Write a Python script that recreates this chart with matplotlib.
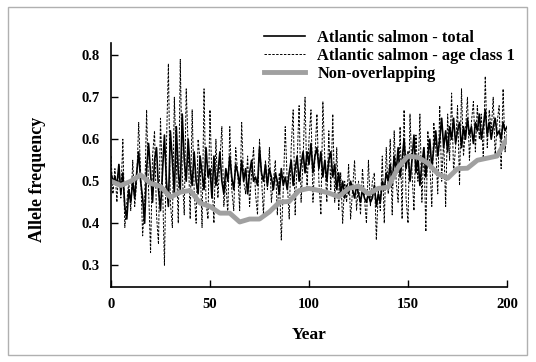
import numpy as np
import matplotlib
matplotlib.use("Agg")
import matplotlib.pyplot as plt
from matplotlib.patches import Rectangle

plt.rcParams['font.family'] = ['Liberation Serif', 'DejaVu Serif']
plt.rcParams['font.weight'] = 'bold'

years = np.arange(0, 201)

# Atlantic salmon - total
total = [
    0.52, 0.50, 0.51, 0.49, 0.54, 0.47, 0.52, 0.44, 0.41, 0.48,
    0.45, 0.50, 0.46, 0.52, 0.57, 0.50, 0.46, 0.40, 0.53, 0.59,
    0.52, 0.45, 0.55, 0.58, 0.48, 0.43, 0.52, 0.61, 0.50, 0.44,
    0.62, 0.55, 0.47, 0.63, 0.52, 0.48, 0.66, 0.55, 0.50, 0.60,
    0.53, 0.49, 0.57, 0.50, 0.47, 0.56, 0.52, 0.48, 0.58, 0.51,
    0.53, 0.46, 0.56, 0.49, 0.52, 0.57, 0.50, 0.47, 0.53, 0.50,
    0.56, 0.51, 0.48, 0.54, 0.52, 0.49, 0.55, 0.50, 0.53, 0.47,
    0.52, 0.55, 0.50, 0.51, 0.49, 0.58, 0.52, 0.50, 0.54, 0.49,
    0.53, 0.51, 0.48, 0.52, 0.50, 0.47, 0.53, 0.49, 0.51, 0.48,
    0.52, 0.55, 0.49, 0.53, 0.56, 0.50, 0.54, 0.57, 0.52, 0.57,
    0.54, 0.59, 0.52, 0.56, 0.58, 0.53, 0.57, 0.51, 0.55, 0.50,
    0.55, 0.57, 0.51, 0.54, 0.48, 0.52, 0.47, 0.50, 0.46, 0.49,
    0.47, 0.50, 0.48, 0.46, 0.49, 0.47, 0.45, 0.48, 0.46, 0.45,
    0.47, 0.45, 0.46, 0.49, 0.44, 0.47, 0.45, 0.50, 0.48, 0.52,
    0.50, 0.54, 0.49, 0.56, 0.52, 0.58, 0.51, 0.55, 0.60, 0.53,
    0.57, 0.50, 0.55, 0.61, 0.52, 0.56, 0.49, 0.54, 0.58, 0.51,
    0.56, 0.60, 0.53, 0.58, 0.62, 0.56, 0.60, 0.65, 0.58, 0.62,
    0.57, 0.63, 0.60, 0.65, 0.59, 0.62, 0.64, 0.58, 0.63, 0.60,
    0.65, 0.61, 0.63, 0.59, 0.64, 0.62, 0.66, 0.60, 0.63, 0.67,
    0.61, 0.64, 0.60, 0.63, 0.65, 0.61, 0.62, 0.60, 0.64, 0.62,
    0.63,
]

# Atlantic salmon - age class 1
age1 = [
    0.56, 0.47, 0.53, 0.45, 0.54, 0.46, 0.60, 0.39, 0.45, 0.50,
    0.43, 0.55, 0.44, 0.50, 0.64, 0.52, 0.37, 0.45, 0.67, 0.48,
    0.33, 0.56, 0.62, 0.42, 0.35, 0.65, 0.50, 0.30, 0.58, 0.78,
    0.45, 0.39, 0.70, 0.55, 0.40, 0.79, 0.52, 0.42, 0.72, 0.58,
    0.41, 0.67, 0.48, 0.40, 0.60, 0.55, 0.39, 0.72, 0.45, 0.41,
    0.67, 0.50, 0.40, 0.60, 0.46, 0.55, 0.63, 0.44, 0.50, 0.42,
    0.63, 0.48, 0.43, 0.58, 0.52, 0.43, 0.64, 0.50, 0.47, 0.56,
    0.44, 0.52, 0.58, 0.47, 0.42, 0.60, 0.51, 0.42, 0.55, 0.48,
    0.58, 0.45, 0.50, 0.55, 0.42, 0.52, 0.36, 0.48, 0.63, 0.50,
    0.41, 0.58, 0.67, 0.42, 0.55, 0.68, 0.45, 0.55, 0.70, 0.48,
    0.60, 0.67, 0.45, 0.56, 0.66, 0.50, 0.42, 0.69, 0.55, 0.45,
    0.62, 0.48, 0.66, 0.45, 0.58, 0.43, 0.52, 0.40, 0.50, 0.45,
    0.54, 0.41, 0.48, 0.55, 0.43, 0.50, 0.42, 0.53, 0.46, 0.40,
    0.55, 0.44, 0.50, 0.52, 0.36, 0.48, 0.43, 0.56, 0.40, 0.58,
    0.47, 0.60, 0.42, 0.62, 0.50, 0.45, 0.63, 0.41, 0.67, 0.46,
    0.40, 0.66, 0.52, 0.43, 0.61, 0.50, 0.66, 0.45, 0.58, 0.38,
    0.62, 0.54, 0.44, 0.64, 0.58, 0.47, 0.68, 0.50, 0.60, 0.44,
    0.66, 0.55, 0.71, 0.52, 0.58, 0.68, 0.49, 0.72, 0.56, 0.62,
    0.70, 0.55, 0.64, 0.69, 0.57, 0.68, 0.60, 0.66, 0.55, 0.75,
    0.58, 0.67, 0.62, 0.70, 0.56, 0.64, 0.68, 0.53, 0.72, 0.57,
    0.62,
]

# Non-overlapping, every 5 years
nonov_years = np.arange(0, 201, 5)
nonov = [
    0.500, 0.490, 0.500, 0.515, 0.495, 0.488, 0.462, 0.474, 0.478, 0.448,
    0.440, 0.424, 0.424, 0.403, 0.410, 0.410, 0.427, 0.450, 0.452, 0.478,
    0.483, 0.478, 0.472, 0.463, 0.483, 0.488, 0.470, 0.483, 0.486, 0.533,
    0.560, 0.557, 0.543, 0.518, 0.507, 0.530, 0.531, 0.550, 0.555, 0.560,
    0.602,
]

fig = plt.figure(figsize=(5.36, 3.62), dpi=100)
ax = fig.add_axes([0.207, 0.207, 0.739, 0.674])

ax.plot(years, total, color='black', lw=1.2, label='Atlantic salmon - total')
ax.plot(years, age1, color='black', lw=0.7, ls=(0, (2.5, 1.5)),
        label='Atlantic salmon - age class 1')
ax.plot(nonov_years, nonov, color='#a0a0a0', lw=3.5, label='Non-overlapping')

ax.set_xlim(0, 200)
ax.set_ylim(0.248, 0.829)
ax.set_xticks([0, 50, 100, 150, 200])
ax.set_yticks([0.3, 0.4, 0.5, 0.6, 0.7, 0.8])
ax.set_yticklabels(['0.3', '0.4', '0.5', '0.6', '0.7', '0.8'])
ax.tick_params(direction='in', length=5, width=1, labelsize=10.5, pad=8)
for t in ax.get_xticklabels() + ax.get_yticklabels():
    t.set_fontweight('bold')
ax.spines['top'].set_visible(False)
ax.spines['right'].set_visible(False)
ax.spines['left'].set_linewidth(1.2)
ax.spines['bottom'].set_linewidth(1.2)

ax.set_xlabel('Year', fontsize=12.5, fontweight='bold')
ax.xaxis.set_label_coords(0.5, -0.165)
ax.set_ylabel('Allele frequency', fontsize=13, fontweight='bold')
ax.yaxis.set_label_coords(-0.165, 0.44)

leg = ax.legend(loc='upper right', bbox_to_anchor=(515 / 536, (362 - 30) / 362),
                bbox_transform=fig.transFigure, frameon=False,
                fontsize=11.8, handlelength=2.5, handletextpad=0.75,
                labelspacing=0.12, borderaxespad=0, borderpad=0)
for t in leg.get_texts():
    t.set_fontweight('bold')

fig.patches.append(Rectangle((0.015, 0.02), 0.968, 0.96, transform=fig.transFigure,
                             fill=False, edgecolor='#b0b0b0', lw=1))

fig.savefig('out.png', dpi=100)
